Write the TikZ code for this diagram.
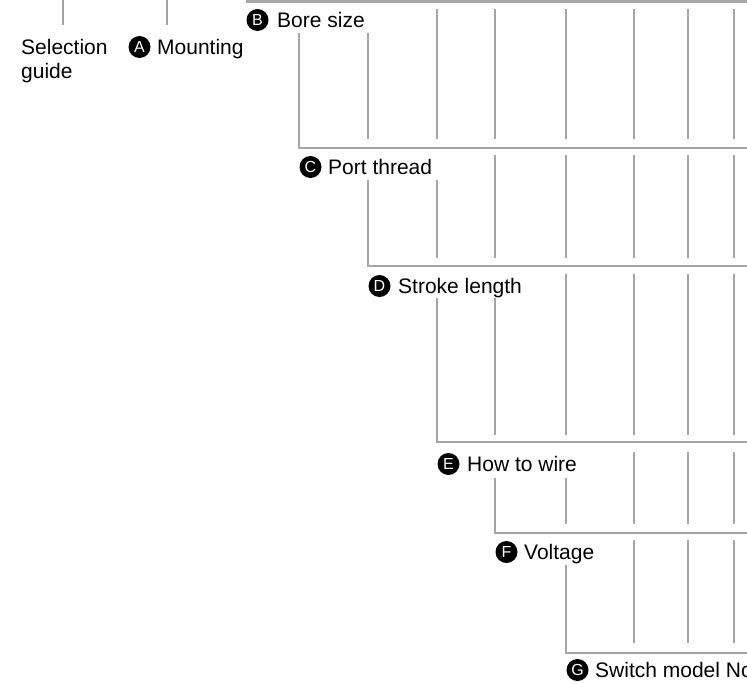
\documentclass[tikz,border=0pt]{standalone}
\usepackage{fontspec}
\setmainfont{Liberation Sans}
\definecolor{linegray}{RGB}{165,165,165}
\begin{document}
\begin{tikzpicture}[x=1pt,y=-1pt,
  gl/.style={draw=linegray,line width=2.5pt},
  lbl/.style={anchor=base west,inner sep=0pt,font=\fontsize{21}{24}\selectfont},
  badge/.style={circle,fill=black,text=white,minimum size=22pt,inner sep=0pt,font=\fontsize{16}{16}\selectfont}]
\useasboundingbox (0,0) rectangle (747,683);

% ---- labels ----
\node[lbl] (sel) at (21,54) {Selection};
\node[lbl] (gui) at (21,78) {guide};
\node[badge] (bA) at (139.5,47) {A};
\node[lbl] (tA) at (157,54) {Mounting};
\node[badge] (bB) at (257.5,20) {B};
\node[lbl] (tB) at (277,27) {Bore size};
\node[badge] (bC) at (310.5,167) {C};
\node[lbl] (tC) at (328,174) {Port thread};
\node[badge] (bD) at (379.5,286) {D};
\node[lbl] (tD) at (398,293) {Stroke length};
\node[badge] (bE) at (448.5,464) {E};
\node[lbl] (tE) at (467,471) {How to wire};
\node[badge] (bF) at (506.5,552) {F};
\node[lbl] (tF) at (524,559) {Voltage};
\node[badge] (bG) at (577.5,670) {G};
\node[lbl] (tG) at (595,677) {Switch model No};

% ---- top ----
\draw[gl] (63,0) -- (63,25);
\draw[gl] (167,0) -- (167,25);
\draw[gl] (246,1.5) -- (747,1.5);
\foreach \x in {437,495,566,634,688,734} \draw[gl] (\x,9) -- (\x,139);
\draw[gl] (299,33) -- (299,148) -- (747,148);
\draw[gl] (368,33) -- (368,139);

% ---- level C ----
\foreach \x in {495,566,634,688,734} \draw[gl] (\x,155) -- (\x,258);
\draw[gl] (368,180) -- (368,266) -- (747,266);
\draw[gl] (437,180) -- (437,258);

% ---- level D ----
\foreach \x in {566,634,688,734} \draw[gl] (\x,274) -- (\x,435);
\draw[gl] (437,298) -- (437,442) -- (747,442);
\draw[gl] (495,298) -- (495,435);

% ---- level E ----
\foreach \x in {634,688,734} \draw[gl] (\x,452) -- (\x,524);
\draw[gl] (495,478) -- (495,533) -- (747,533);
\draw[gl] (566,478) -- (566,524);

% ---- level F ----
\foreach \x in {634,688,734} \draw[gl] (\x,540) -- (\x,643);
\draw[gl] (566,565) -- (566,653) -- (747,653);
\end{tikzpicture}
\end{document}
